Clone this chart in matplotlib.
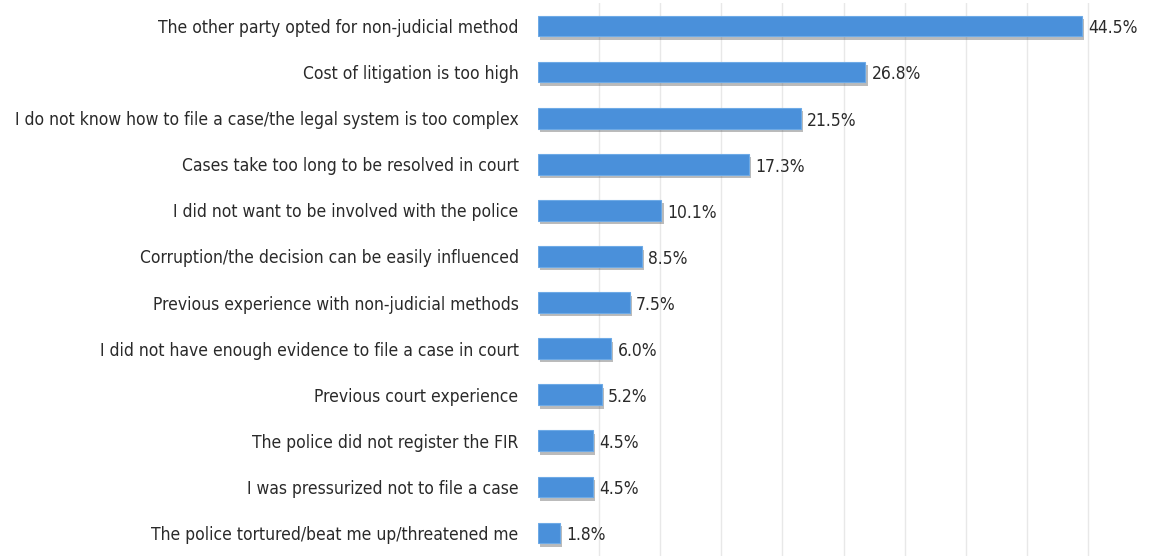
import matplotlib.pyplot as plt
import matplotlib.patheffects as pe

reasons = [
    "The other party opted for non-judicial method",
    "Cost of litigation is too high",
    "I do not know how to file a case/the legal system is too complex",
    "Cases take too long to be resolved in court",
    "I did not want to be involved with the police",
    "Corruption/the decision can be easily influenced",
    "Previous experience with non-judicial methods",
    "I did not have enough evidence to file a case in court",
    "Previous court experience",
    "The police did not register the FIR",
    "I was pressurized not to file a case",
    "The police tortured/beat me up/threatened me",
]
shares = [44.5, 26.8, 21.5, 17.3, 10.1, 8.5, 7.5, 6.0, 5.2, 4.5, 4.5, 1.8]

plt.rcParams["font.family"] = "DejaVu Sans"
plt.rcParams["font.stretch"] = "condensed"

fig = plt.figure(figsize=(11.49, 5.56), dpi=100)
ax = fig.add_axes([538 / 1149, 0, 1 - 538 / 1149, 553 / 556])

y = list(range(len(reasons)))
bars = ax.barh(y, shares, height=0.45, color="#4a90da", edgecolor="#6eaae6", linewidth=0.8, zorder=3)
for b in bars:
    b.set_path_effects([pe.SimplePatchShadow(offset=(1.5, -2.5), shadow_rgbFace="#555555", alpha=0.4),
                        pe.Normal()])

for yi, v in zip(y, shares):
    ax.text(v + 0.5, yi + 0.05, f"{v:.1f}%", va="center", ha="left", fontsize=12.5, color="#2a2a2a")

ax.set_yticks(y)
ax.set_yticklabels(reasons, fontsize=12.5, color="#2a2a2a")
ax.tick_params(axis="y", length=0, pad=14)
ax.set_xticks([5 * i for i in range(1, 10)])
ax.tick_params(axis="x", length=0, labelbottom=False)
ax.xaxis.grid(True, color="#e8e8e8", linewidth=1, zorder=0)
ax.set_xlim(0, 50)
ax.set_ylim(len(reasons) - 0.5, -0.5)
for s in ax.spines.values():
    s.set_visible(False)

fig.savefig("out.png", dpi=100)
